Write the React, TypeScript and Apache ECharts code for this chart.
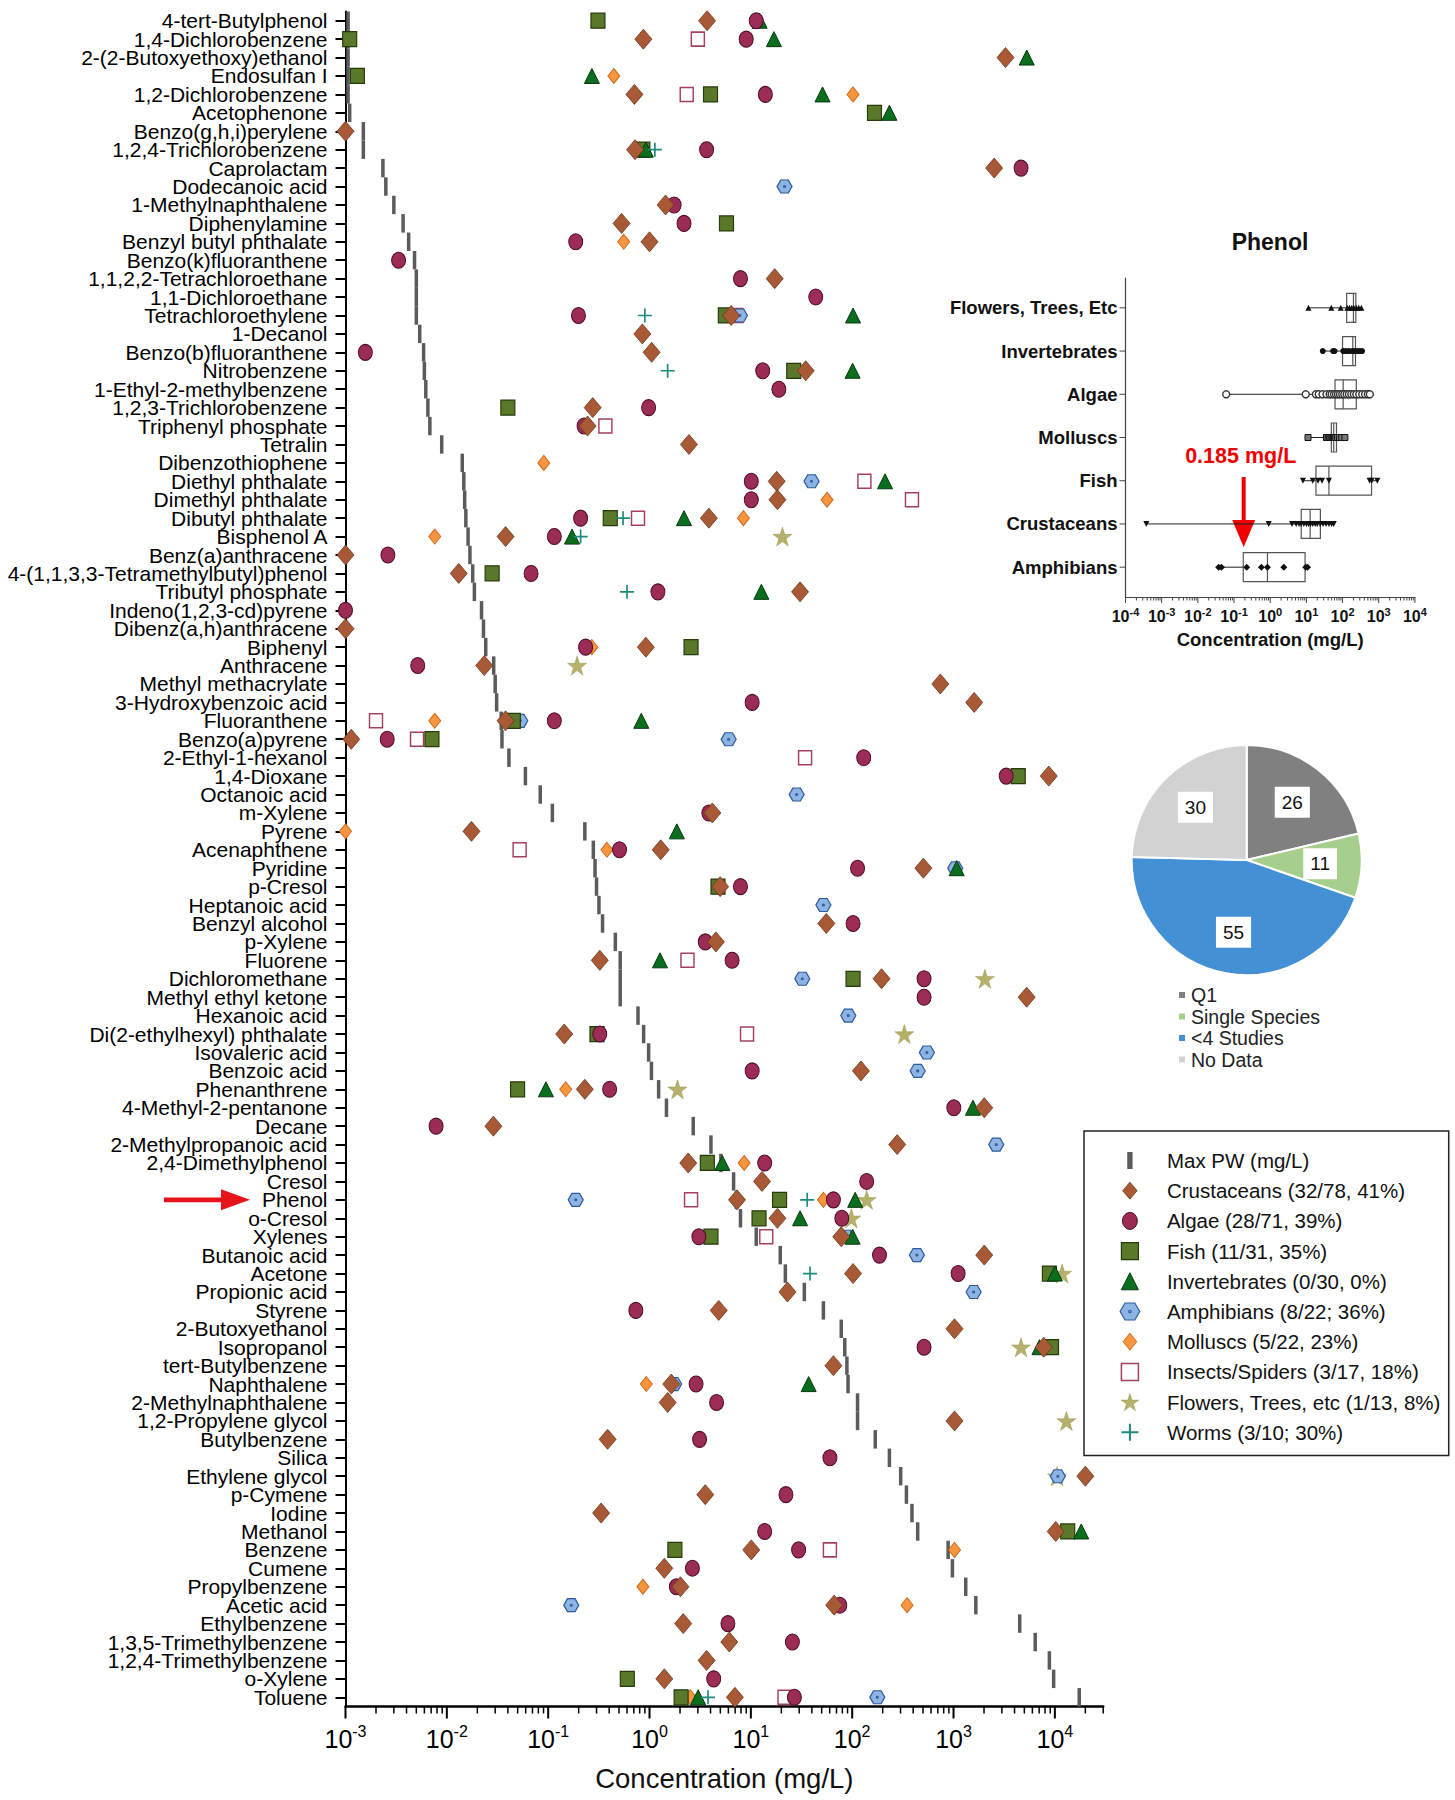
import React, { useEffect, useRef } from "react";
import * as echarts from "echarts";

const FONT = "'Liberation Sans', Arial, Helvetica, sans-serif";

// ---------------- Main chart: chemicals (top to bottom) ----------------
const CHEMICALS: string[] = [
  "4-tert-Butylphenol", "1,4-Dichlorobenzene", "2-(2-Butoxyethoxy)ethanol", "Endosulfan I",
  "1,2-Dichlorobenzene", "Acetophenone", "Benzo(g,h,i)perylene", "1,2,4-Trichlorobenzene",
  "Caprolactam", "Dodecanoic acid", "1-Methylnaphthalene", "Diphenylamine",
  "Benzyl butyl phthalate", "Benzo(k)fluoranthene", "1,1,2,2-Tetrachloroethane", "1,1-Dichloroethane",
  "Tetrachloroethylene", "1-Decanol", "Benzo(b)fluoranthene", "Nitrobenzene",
  "1-Ethyl-2-methylbenzene", "1,2,3-Trichlorobenzene", "Triphenyl phosphate", "Tetralin",
  "Dibenzothiophene", "Diethyl phthalate", "Dimethyl phthalate", "Dibutyl phthalate",
  "Bisphenol A", "Benz(a)anthracene", "4-(1,1,3,3-Tetramethylbutyl)phenol", "Tributyl phosphate",
  "Indeno(1,2,3-cd)pyrene", "Dibenz(a,h)anthracene", "Biphenyl", "Anthracene",
  "Methyl methacrylate", "3-Hydroxybenzoic acid", "Fluoranthene", "Benzo(a)pyrene",
  "2-Ethyl-1-hexanol", "1,4-Dioxane", "Octanoic acid", "m-Xylene",
  "Pyrene", "Acenaphthene", "Pyridine", "p-Cresol",
  "Heptanoic acid", "Benzyl alcohol", "p-Xylene", "Fluorene",
  "Dichloromethane", "Methyl ethyl ketone", "Hexanoic acid", "Di(2-ethylhexyl) phthalate",
  "Isovaleric acid", "Benzoic acid", "Phenanthrene", "4-Methyl-2-pentanone",
  "Decane", "2-Methylpropanoic acid", "2,4-Dimethylphenol", "Cresol",
  "Phenol", "o-Cresol", "Xylenes", "Butanoic acid",
  "Acetone", "Propionic acid", "Styrene", "2-Butoxyethanol",
  "Isopropanol", "tert-Butylbenzene", "Naphthalene", "2-Methylnaphthalene",
  "1,2-Propylene glycol", "Butylbenzene", "Silica", "Ethylene glycol",
  "p-Cymene", "Iodine", "Methanol", "Benzene",
  "Cumene", "Propylbenzene", "Acetic acid", "Ethylbenzene",
  "1,3,5-Trimethylbenzene", "1,2,4-Trimethylbenzene", "o-Xylene", "Toluene",
];

// Max pore-water concentration (mg/L), same order as CHEMICALS
const MAX_PW: number[] = [
  0.00106, 0.00106, 0.00106, 0.00106, 0.00106, 0.0011, 0.0015, 0.0015,
  0.00234, 0.0025, 0.003, 0.0037, 0.0042, 0.0048, 0.005, 0.005,
  0.005, 0.0054, 0.0059, 0.006, 0.0062, 0.0065, 0.0068, 0.0089,
  0.0142, 0.0147, 0.015, 0.0154, 0.0162, 0.0169, 0.018, 0.0187,
  0.022, 0.023, 0.0242, 0.029, 0.03, 0.031, 0.0344, 0.035,
  0.041, 0.0596, 0.0835, 0.11, 0.23, 0.279, 0.29, 0.3,
  0.317, 0.344, 0.46, 0.514, 0.514, 0.514, 0.77, 0.875,
  0.98, 1.045, 1.23, 1.47, 2.7, 4.04, 5.06, 6.76,
  7.2, 7.9, 11.3, 19.5, 21.9, 33.7, 52, 78,
  84.5, 88.7, 91, 113, 113, 169, 233, 301,
  343, 389, 443, 885, 975, 1320, 1660, 4500,
  6400, 8830, 9730, 17400,
];

type Pt = [string, number];

const CRUSTACEANS: Pt[] = [
  ["4-tert-Butylphenol", 3.7], ["1,4-Dichlorobenzene", 0.87], ["2-(2-Butoxyethoxy)ethanol", 3260],
  ["1,2-Dichlorobenzene", 0.71], ["Benzo(g,h,i)perylene", 0.001], ["1,2,4-Trichlorobenzene", 0.72],
  ["Caprolactam", 2520], ["1-Methylnaphthalene", 1.44], ["Diphenylamine", 0.53],
  ["Benzyl butyl phthalate", 1.0], ["1,1,2,2-Tetrachloroethane", 17.2], ["Tetrachloroethylene", 6.4],
  ["1-Decanol", 0.85], ["Benzo(b)fluoranthene", 1.05], ["Nitrobenzene", 34.8],
  ["1,2,3-Trichlorobenzene", 0.275], ["Triphenyl phosphate", 0.245], ["Tetralin", 2.45],
  ["Diethyl phthalate", 18], ["Dimethyl phthalate", 18.3], ["Dibutyl phthalate", 3.85],
  ["Bisphenol A", 0.038], ["Benz(a)anthracene", 0.001], ["4-(1,1,3,3-Tetramethylbutyl)phenol", 0.0131],
  ["Tributyl phosphate", 30.6], ["Dibenz(a,h)anthracene", 0.001], ["Biphenyl", 0.92],
  ["Anthracene", 0.0234], ["Methyl methacrylate", 741], ["3-Hydroxybenzoic acid", 1600],
  ["Fluoranthene", 0.038], ["Benzo(a)pyrene", 0.00114], ["1,4-Dioxane", 8710],
  ["m-Xylene", 4.17], ["Pyrene", 0.0175], ["Acenaphthene", 1.29],
  ["Pyridine", 504], ["p-Cresol", 4.98], ["Benzyl alcohol", 55.6],
  ["p-Xylene", 4.52], ["Fluorene", 0.323], ["Dichloromethane", 195],
  ["Methyl ethyl ketone", 5270], ["Di(2-ethylhexyl) phthalate", 0.144], ["Benzoic acid", 122],
  ["Phenanthrene", 0.23], ["4-Methyl-2-pentanone", 2010], ["Decane", 0.0288],
  ["2-Methylpropanoic acid", 278], ["2,4-Dimethylphenol", 2.41], ["Cresol", 12.9],
  ["Phenol", 7.3], ["o-Cresol", 18.3], ["Xylenes", 78],
  ["Butanoic acid", 2010], ["Acetone", 102], ["Propionic acid", 23],
  ["Styrene", 4.82], ["2-Butoxyethanol", 1023], ["Isopropanol", 7760],
  ["tert-Butylbenzene", 65.3], ["Naphthalene", 1.64], ["2-Methylnaphthalene", 1.51],
  ["1,2-Propylene glycol", 1023], ["Butylbenzene", 0.386], ["Ethylene glycol", 20000],
  ["p-Cymene", 3.55], ["Iodine", 0.333], ["Methanol", 10200],
  ["Benzene", 10.1], ["Cumene", 1.4], ["Propylbenzene", 2.02],
  ["Acetic acid", 66.4], ["Ethylbenzene", 2.15], ["1,3,5-Trimethylbenzene", 6.13],
  ["1,2,4-Trimethylbenzene", 3.66], ["o-Xylene", 1.4], ["Toluene", 6.96],
];

const ALGAE: Pt[] = [
  ["4-tert-Butylphenol", 11.3], ["1,4-Dichlorobenzene", 9.0], ["1,2-Dichlorobenzene", 13.9],
  ["1,2,4-Trichlorobenzene", 3.66], ["Caprolactam", 4640], ["1-Methylnaphthalene", 1.75],
  ["Diphenylamine", 2.19], ["Benzyl butyl phthalate", 0.187], ["Benzo(k)fluoranthene", 0.00334],
  ["1,1,2,2-Tetrachloroethane", 7.9], ["1,1-Dichloroethane", 43.7], ["Tetrachloroethylene", 0.199],
  ["Benzo(b)fluoranthene", 0.00157], ["Nitrobenzene", 13.1], ["1-Ethyl-2-methylbenzene", 18.9],
  ["1,2,3-Trichlorobenzene", 0.98], ["Triphenyl phosphate", 0.226], ["Diethyl phthalate", 10.1],
  ["Dimethyl phthalate", 10.1], ["Dibutyl phthalate", 0.209], ["Bisphenol A", 0.115],
  ["Benz(a)anthracene", 0.00262], ["4-(1,1,3,3-Tetramethylbutyl)phenol", 0.0678], ["Tributyl phosphate", 1.21],
  ["Indeno(1,2,3-cd)pyrene", 0.001], ["Biphenyl", 0.234], ["Anthracene", 0.00516],
  ["3-Hydroxybenzoic acid", 10.3], ["Fluoranthene", 0.115], ["Benzo(a)pyrene", 0.00258],
  ["2-Ethyl-1-hexanol", 130], ["1,4-Dioxane", 3310], ["m-Xylene", 3.85],
  ["Acenaphthene", 0.506], ["Pyridine", 113], ["p-Cresol", 7.9],
  ["Benzyl alcohol", 102], ["p-Xylene", 3.55], ["Fluorene", 6.53],
  ["Dichloromethane", 512], ["Methyl ethyl ketone", 512], ["Di(2-ethylhexyl) phthalate", 0.323],
  ["Benzoic acid", 10.3], ["Phenanthrene", 0.404], ["4-Methyl-2-pentanone", 1007],
  ["Decane", 0.00783], ["2,4-Dimethylphenol", 13.7], ["Cresol", 139],
  ["Phenol", 65.3], ["o-Cresol", 79], ["Xylenes", 3.07],
  ["Butanoic acid", 186], ["Acetone", 1110], ["Styrene", 0.733],
  ["Isopropanol", 512], ["Naphthalene", 2.88], ["2-Methylnaphthalene", 4.59],
  ["Butylbenzene", 3.12], ["Silica", 60.3], ["p-Cymene", 22.2],
  ["Methanol", 13.7], ["Benzene", 29.6], ["Cumene", 2.65],
  ["Propylbenzene", 1.84], ["Acetic acid", 75.5], ["Ethylbenzene", 5.94],
  ["1,3,5-Trimethylbenzene", 25.7], ["o-Xylene", 4.3], ["Toluene", 26.9],
];

const FISH: Pt[] = [
  ["4-tert-Butylphenol", 0.31], ["1,4-Dichlorobenzene", 0.0011], ["Endosulfan I", 0.00131],
  ["1,2-Dichlorobenzene", 4.0], ["Acetophenone", 166], ["1,2,4-Trichlorobenzene", 0.86],
  ["Diphenylamine", 5.75], ["Tetrachloroethylene", 5.6], ["Nitrobenzene", 26.5],
  ["1,2,3-Trichlorobenzene", 0.04], ["Dibutyl phthalate", 0.41], ["4-(1,1,3,3-Tetramethylbutyl)phenol", 0.028],
  ["Biphenyl", 2.57], ["Fluoranthene", 0.0453], ["Benzo(a)pyrene", 0.00713],
  ["1,4-Dioxane", 4350], ["p-Cresol", 4.74], ["Dichloromethane", 102],
  ["Di(2-ethylhexyl) phthalate", 0.303], ["Phenanthrene", 0.0499], ["2,4-Dimethylphenol", 3.72],
  ["Phenol", 19.2], ["o-Cresol", 12.05], ["Xylenes", 4.04],
  ["Acetone", 8830], ["Isopropanol", 9270], ["Methanol", 13400],
  ["Benzene", 1.78], ["o-Xylene", 0.604], ["Toluene", 2.05],
];

const INVERTEBRATES: Pt[] = [
  ["4-tert-Butylphenol", 12.2], ["1,4-Dichlorobenzene", 16.9], ["2-(2-Butoxyethoxy)ethanol", 5280],
  ["Endosulfan I", 0.27], ["1,2-Dichlorobenzene", 51], ["Acetophenone", 233],
  ["1,2,4-Trichlorobenzene", 0.92], ["Tetrachloroethylene", 102], ["Nitrobenzene", 101],
  ["Diethyl phthalate", 211], ["Dibutyl phthalate", 2.19], ["Bisphenol A", 0.172],
  ["Tributyl phosphate", 12.7], ["Fluoranthene", 0.83], ["Pyrene", 1.86],
  ["Pyridine", 1075], ["Fluorene", 1.27], ["Phenanthrene", 0.095],
  ["4-Methyl-2-pentanone", 1556], ["2,4-Dimethylphenol", 5.23], ["Phenol", 107],
  ["o-Cresol", 30.6], ["Xylenes", 101], ["Acetone", 10000],
  ["Isopropanol", 7050], ["Naphthalene", 37.2], ["Methanol", 18200],
  ["Toluene", 3.02],
];

const AMPHIBIANS: Pt[] = [
  ["Dodecanoic acid", 21.5], ["Tetrachloroethylene", 7.8], ["Diethyl phthalate", 39.7],
  ["Fluoranthene", 0.053], ["Benzo(a)pyrene", 6.04], ["Octanoic acid", 28.3],
  ["Pyridine", 1040], ["Heptanoic acid", 52], ["Dichloromethane", 32.2],
  ["Hexanoic acid", 91.5], ["Isovaleric acid", 546], ["Benzoic acid", 443],
  ["2-Methylpropanoic acid", 2640], ["Phenol", 0.187], ["Xylenes", 88],
  ["Butanoic acid", 435], ["Propionic acid", 1580], ["Naphthalene", 1.75],
  ["Ethylene glycol", 10700], ["Acetic acid", 0.169], ["Toluene", 177],
];

const MOLLUSCS: Pt[] = [
  ["Endosulfan I", 0.445], ["1,2-Dichlorobenzene", 102], ["Benzyl butyl phthalate", 0.557],
  ["Dibenzothiophene", 0.0906], ["Dimethyl phthalate", 56.5], ["Dibutyl phthalate", 8.45],
  ["Bisphenol A", 0.0076], ["Biphenyl", 0.27], ["Fluoranthene", 0.0076],
  ["Pyrene", 0.001], ["Acenaphthene", 0.38], ["Phenanthrene", 0.149],
  ["2,4-Dimethylphenol", 8.59], ["Phenol", 52], ["Naphthalene", 0.93],
  ["Benzene", 1023], ["Propylbenzene", 0.86], ["Acetic acid", 348],
  ["Toluene", 2.53],
];

const INSECTS: Pt[] = [
  ["1,4-Dichlorobenzene", 3.0], ["1,2-Dichlorobenzene", 2.33], ["Tetrachloroethylene", 7.2],
  ["Triphenyl phosphate", 0.367], ["Diethyl phthalate", 132], ["Dimethyl phthalate", 389],
  ["Dibutyl phthalate", 0.77], ["Fluoranthene", 0.002], ["Benzo(a)pyrene", 0.00508],
  ["2-Ethyl-1-hexanol", 34.3], ["Acenaphthene", 0.0523], ["Fluorene", 2.37],
  ["Di(2-ethylhexyl) phthalate", 9.17], ["Phenol", 2.57], ["Xylenes", 14.2],
  ["Benzene", 60.3], ["Toluene", 21.5],
];

const FLOWERS: Pt[] = [
  ["Bisphenol A", 20.5], ["Anthracene", 0.193], ["Dichloromethane", 2040],
  ["Di(2-ethylhexyl) phthalate", 327], ["Phenanthrene", 1.89], ["Phenol", 139],
  ["o-Cresol", 98], ["Acetone", 11800], ["Isopropanol", 4640],
  ["1,2-Propylene glycol", 13000], ["Ethylene glycol", 10500],
];

const WORMS: Pt[] = [
  ["1,2,4-Trichlorobenzene", 1.13], ["Tetrachloroethylene", 0.9], ["Nitrobenzene", 1.51],
  ["Dibutyl phthalate", 0.548], ["Bisphenol A", 0.209], ["Tributyl phosphate", 0.6],
  ["Phenol", 36], ["Acetone", 38.4], ["Toluene", 3.78],
];

const X_EXPONENTS = [-3, -2, -1, 0, 1, 2, 3, 4];
const X_MIN = 0.001;
const X_MAX = 30000;

// ---------------- Inset (Phenol) ----------------
const INSET_GROUPS = ["Flowers, Trees, Etc", "Invertebrates", "Algae", "Molluscs", "Fish", "Crustaceans", "Amphibians"];
// [min, Q1, median, Q3, max]
const INSET_BOXES: number[][] = [
  [11.4, 130, 200, 233, 331],
  [28.4, 100, 192, 228, 347],
  [0.0607, 62, 104, 240, 569],
  [11.1, 49, 57, 68, 116],
  [8.05, 18.4, 42, 634, 916],
  [0.000376, 7.2, 12.7, 24.4, 57],
  [0.0376, 0.18, 0.84, 9.2, 10.2],
];
const INSET_FLOWERS_PTS = [11.4, 49, 89, 135, 155, 180, 205, 240, 280, 331];
const INSET_INVERT_PTS = [28.4, 55, 60, 105, 125, 150, 185, 220, 260, 300, 347];
const INSET_ALGAE_PTS = [0.0607, 9.6, 18.3, 22, 28, 36, 44, 50, 58, 66, 75, 85, 98, 112, 130, 150, 175, 205, 240, 290, 350, 420, 500, 569];
const INSET_MOLLUSC_PTS = [11.1, 36, 40, 44, 48, 52, 56, 60, 65, 72, 82, 95, 116];
const INSET_FISH_PTS = [8.05, 15, 21, 27, 42, 560, 640, 916];
const INSET_CRUST_PTS = [0.000376, 0.91, 4.0, 5.2, 6.3, 7.2, 8.5, 10, 11.5, 13, 15, 17.5, 20, 24, 29, 35, 42, 50, 57];
const INSET_AMPHIB_PTS = [0.0376, 0.045, 0.224, 0.57, 0.84, 2.38, 9.6, 10.8];
const INSET_X_EXPONENTS = [-4, -3, -2, -1, 0, 1, 2, 3, 4];
const PHENOL_PNEC = 0.185;

// ---------------- Pie ----------------
const PIE_NAMES = ["Q1", "Single Species", "<4 Studies", "No Data"];
const PIE_VALUES = [26, 11, 55, 30];
const PIE_COLORS = ["#808080", "#A6CE8C", "#4390D5", "#D2D2D2"];

// ---------------- Symbols (paths keep their aspect in the legend) ----------------
const P_DIAMOND_L = "path://M42.5,0 L85,50 L42.5,100 L0,50 Z";
const P_DIAMOND_S = "path://M40,0 L80,50 L40,100 L0,50 Z";
const P_ELLIPSE = "path://M43.75,0 A43.75,50 0 1,1 43.75,100 A43.75,50 0 1,1 43.75,0 Z";
const P_RECT = "path://M0,0 L100,0 L100,100 L0,100 Z";
const P_TRIANGLE = "path://M50,0 L100,100 L0,100 Z";
const HEX = "path://M25,0 L75,0 L100,43.3 L75,86.6 L25,86.6 L0,43.3 Z M50,37 A6.3,6.3 0 1,1 50,49.6 A6.3,6.3 0 1,1 50,37 Z";
const STAR = "path://M50,0 L61.2,34.5 L97.6,34.5 L68.2,55.9 L79.4,90.5 L50,69.1 L20.6,90.5 L31.8,55.9 L2.4,34.5 L38.8,34.5 Z";
const PLUS = "path://M44,0 L56,0 L56,44 L100,44 L100,56 L56,56 L56,100 L44,100 L44,56 L0,56 L0,44 L44,44 Z";

const N_MAXPW = "Max PW (mg/L)";

interface Species {
  name: string; data: Pt[]; symbol: string; size: number | number[];
  color: string; border: string; bw: number;
}

const SPECIES: Species[] = [
  { name: "Crustaceans (32/78, 41%)", data: CRUSTACEANS, symbol: P_DIAMOND_L, size: [17, 20], color: "#A85A37", border: "#6E3519", bw: 0.8 },
  { name: "Algae (28/71, 39%)", data: ALGAE, symbol: P_ELLIPSE, size: [14, 16], color: "#9B2C55", border: "#4E0A25", bw: 1 },
  { name: "Fish (11/31, 35%)", data: FISH, symbol: P_RECT, size: [14, 15], color: "#59782A", border: "#263A0A", bw: 1.2 },
  { name: "Invertebrates (0/30, 0%)", data: INVERTEBRATES, symbol: P_TRIANGLE, size: [15, 15], color: "#0B6E1E", border: "#053A0E", bw: 1 },
  { name: "Amphibians (8/22; 36%)", data: AMPHIBIANS, symbol: HEX, size: [15, 13], color: "#8DB4E2", border: "#2F5B9E", bw: 1.2 },
  { name: "Molluscs (5/22, 23%)", data: MOLLUSCS, symbol: P_DIAMOND_S, size: [12, 15], color: "#F7963F", border: "#D06A1E", bw: 1 },
  { name: "Insects/Spiders (3/17, 18%)", data: INSECTS, symbol: P_RECT, size: [13, 14], color: "#FFFFFF", border: "#A3405C", bw: 1.5 },
  { name: "Flowers, Trees, etc (1/13, 8%)", data: FLOWERS, symbol: STAR, size: 19, color: "#B5B16A", border: "#9A9650", bw: 0.5 },
  { name: "Worms (3/10; 30%)", data: WORMS, symbol: PLUS, size: 14, color: "#1E8A7B", border: "#1E8A7B", bw: 0 },
];
// drawing order (bottom to top)
const DRAW_ORDER = [
  "Flowers, Trees, etc (1/13, 8%)", "Insects/Spiders (3/17, 18%)", "Molluscs (5/22, 23%)",
  "Amphibians (8/22; 36%)", "Fish (11/31, 35%)", "Invertebrates (0/30, 0%)",
  "Algae (28/71, 39%)", "Crustaceans (32/78, 41%)", "Worms (3/10; 30%)",
];

function powLabel(v: number): string {
  const l = Math.log10(v);
  const e = Math.round(l);
  if (Math.abs(l - e) > 1e-6) return "";
  return `{b|10}{s|${e}}`;
}

function buildTicks(exps: number[], maxV: number): number[][] {
  const out: number[][] = [];
  exps.forEach((e) => {
    for (let k = 1; k <= 9; k++) {
      const v = k * Math.pow(10, e);
      if (v <= maxV * 1.0001) out.push([v, 0, k === 1 ? 1 : 0]);
    }
  });
  return out;
}

function buildOption(): any {
  const series: any[] = [];

  // Max PW bars
  series.push({
    type: "custom", name: N_MAXPW, xAxisIndex: 0, yAxisIndex: 0, z: 2, silent: true,
    itemStyle: { color: "#5B5B5B" },
    encode: { x: 0, y: 1 },
    data: MAX_PW.map((v, i) => [v, i]),
    renderItem: (params: any, api: any) => {
      const p = api.coord([api.value(0), api.value(1)]);
      const band = params.coordSys.height / CHEMICALS.length;
      return {
        type: "line",
        shape: { x1: p[0], y1: p[1] - band / 2, x2: p[0], y2: p[1] + band / 2 },
        style: { stroke: "#5B5B5B", lineWidth: 3.5 },
      };
    },
  });

  // main x-axis ticks (major + minor, log)
  series.push({
    type: "custom", xAxisIndex: 0, yAxisIndex: 0, silent: true, clip: false, z: 3,
    encode: { x: 0, y: 1 },
    data: buildTicks(X_EXPONENTS, X_MAX),
    renderItem: (params: any, api: any) => {
      const x = api.coord([api.value(0), 0])[0];
      const cs = params.coordSys;
      const y0 = cs.y + cs.height;
      const major = api.value(2) === 1;
      return {
        type: "line",
        shape: { x1: x, y1: y0, x2: x, y2: y0 + (major ? 12 : 7) },
        style: { stroke: "#000", lineWidth: major ? 2 : 1.5 },
      };
    },
  });

  // species scatter
  DRAW_ORDER.forEach((nm, k) => {
    const s = SPECIES.find((x) => x.name === nm)!;
    series.push({
      type: "scatter", name: s.name, xAxisIndex: 0, yAxisIndex: 0, z: 4 + k, silent: true,
      symbol: s.symbol, symbolSize: s.size,
      itemStyle: { color: s.color, borderColor: s.border, borderWidth: s.bw, opacity: 1 },
      data: s.data.map(([c, v]) => [v, CHEMICALS.indexOf(c)]).filter((d) => d[1] >= 0),
    });
  });

  // ---------- Inset ----------
  series.push({
    type: "custom", xAxisIndex: 1, yAxisIndex: 1, silent: true, clip: false, z: 3,
    encode: { x: 0, y: 1 },
    data: buildTicks(INSET_X_EXPONENTS, 10000),
    renderItem: (params: any, api: any) => {
      const x = api.coord([api.value(0), 0])[0];
      const cs = params.coordSys;
      const y0 = cs.y + cs.height;
      const major = api.value(2) === 1;
      return {
        type: "line",
        shape: { x1: x, y1: y0, x2: x, y2: y0 + (major ? 6 : 3.5) },
        style: { stroke: "#444", lineWidth: 1 },
      };
    },
  });

  series.push({
    type: "custom", xAxisIndex: 1, yAxisIndex: 1, silent: true, clip: false, z: 3,
    encode: { x: 0, y: 1 },
    data: INSET_GROUPS.map((g, i) => [1e-4, i]),
    renderItem: (params: any, api: any) => {
      const p = api.coord([api.value(0), api.value(1)]);
      return {
        type: "group",
        children: [
          { type: "line", shape: { x1: p[0] - 6, y1: p[1], x2: p[0], y2: p[1] }, style: { stroke: "#444", lineWidth: 1 } },
          {
            type: "text",
            style: {
              text: INSET_GROUPS[params.dataIndex], x: p[0] - 8, y: p[1],
              textAlign: "right", textVerticalAlign: "middle", align: "right", verticalAlign: "middle",
              font: `bold 18.5px ${FONT}`, fill: "#111",
            },
          },
        ],
      };
    },
  });

  series.push({
    type: "custom", xAxisIndex: 1, yAxisIndex: 1, silent: true, z: 4,
    encode: { x: [1, 2, 3, 4, 5], y: 0 },
    data: INSET_BOXES.map((b, i) => [i, ...b]),
    renderItem: (params: any, api: any) => {
      const i = api.value(0);
      const xs = [1, 2, 3, 4, 5].map((k) => api.coord([api.value(k), i])[0]);
      const y = api.coord([api.value(1), i])[1];
      const h = 14.5;
      return {
        type: "group",
        children: [
          { type: "line", shape: { x1: xs[0], y1: y, x2: xs[1], y2: y }, style: { stroke: "#222", lineWidth: 1 } },
          { type: "line", shape: { x1: xs[3], y1: y, x2: xs[4], y2: y }, style: { stroke: "#222", lineWidth: 1 } },
          { type: "rect", shape: { x: xs[1], y: y - h, width: xs[3] - xs[1], height: 2 * h }, style: { fill: "rgba(255,255,255,0)", stroke: "#555", lineWidth: 1.2 } },
          { type: "line", shape: { x1: xs[2], y1: y - h, x2: xs[2], y2: y + h }, style: { stroke: "#555", lineWidth: 1.2 } },
        ],
      };
    },
  });

  const insetPts: { pts: number[]; symbol: string; size: number; rotate?: number; color: string; border: string; bw: number }[] = [
    { pts: INSET_FLOWERS_PTS, symbol: "triangle", size: 6, color: "#111", border: "#111", bw: 0 },
    { pts: INSET_INVERT_PTS, symbol: "circle", size: 6, color: "#111", border: "#111", bw: 0 },
    { pts: INSET_ALGAE_PTS, symbol: "circle", size: 7, color: "#fff", border: "#333", bw: 1.4 },
    { pts: INSET_MOLLUSC_PTS, symbol: "rect", size: 6, color: "#777", border: "#111", bw: 1 },
    { pts: INSET_FISH_PTS, symbol: "triangle", size: 6, rotate: 180, color: "#111", border: "#111", bw: 0 },
    { pts: INSET_CRUST_PTS, symbol: "triangle", size: 6, rotate: 180, color: "#111", border: "#111", bw: 0 },
    { pts: INSET_AMPHIB_PTS, symbol: "diamond", size: 7, color: "#111", border: "#111", bw: 0 },
  ];
  insetPts.forEach((g, i) => {
    series.push({
      type: "scatter", xAxisIndex: 1, yAxisIndex: 1, silent: true, z: 5,
      symbol: g.symbol, symbolSize: g.size, symbolRotate: g.rotate || 0,
      itemStyle: { color: g.color, borderColor: g.border, borderWidth: g.bw, opacity: 1 },
      data: g.pts.map((v) => [v, i]),
    });
  });

  // ---------- Pie ----------
  series.push({
    type: "pie", center: [1246.7, 860], radius: 115, startAngle: 90, clockwise: true, silent: true,
    label: { show: false }, labelLine: { show: false },
    itemStyle: { borderColor: "#fff", borderWidth: 2 },
    data: PIE_NAMES.map((n, i) => ({ name: n, value: PIE_VALUES[i], itemStyle: { color: PIE_COLORS[i] } })),
  });
  series.push({
    type: "pie", center: [1246.7, 860], radius: [26, 115], startAngle: 90, clockwise: true, silent: true, z: 3,
    itemStyle: { color: "rgba(0,0,0,0)", borderWidth: 0 },
    label: {
      show: true, position: "inside", formatter: "{c}", fontSize: 19, color: "#111", fontFamily: FONT,
      backgroundColor: "#fff", padding: [7, 7, 5, 7],
    },
    labelLine: { show: false },
    data: PIE_VALUES.map((v) => ({ name: "", value: v })),
  });

  const legendMain = [
    { name: N_MAXPW, icon: "path://M0,0 L5,0 L5,16 L0,16 Z", itemStyle: { color: "#5B5B5B", borderWidth: 0 } },
    ...SPECIES.map((s) => ({
      name: s.name, icon: s.symbol,
      itemStyle: { color: s.color, borderColor: s.border, borderWidth: s.bw },
    })),
  ];

  return {
    animation: false,
    textStyle: { fontFamily: FONT },
    grid: [
      { left: 345.5, top: 11.5, width: 757.7, height: 1695, containLabel: false, outerBoundsMode: "none" },
      { left: 1125.5, top: 278, width: 289.4, height: 319, containLabel: false, outerBoundsMode: "none" },
    ],
    xAxis: [
      {
        type: "log", logBase: 10, gridIndex: 0, min: X_MIN, max: X_MAX,
        axisLine: { show: true, onZero: false, lineStyle: { color: "#000", width: 2.5 } },
        axisTick: { show: false }, minorTick: { show: false }, splitLine: { show: false },
        axisLabel: {
          formatter: powLabel, margin: 17, showMinLabel: true, showMaxLabel: true,
          rich: {
            b: { fontSize: 25, lineHeight: 30, color: "#000", fontFamily: FONT },
            s: { fontSize: 16, lineHeight: 24, verticalAlign: "top", color: "#000", fontFamily: FONT },
          },
        },
        name: "Concentration (mg/L)", nameLocation: "middle", nameGap: 58, nameMoveOverlap: false,
        nameTextStyle: { fontSize: 27.5, color: "#111", fontFamily: FONT },
      },
      {
        type: "log", logBase: 10, gridIndex: 1, min: 1e-4, max: 1e4,
        axisLine: { show: true, onZero: false, lineStyle: { color: "#444", width: 1.2 } },
        axisTick: { show: false }, minorTick: { show: false }, splitLine: { show: false },
        axisLabel: {
          formatter: powLabel, margin: 9, showMinLabel: true, showMaxLabel: true,
          rich: {
            b: { fontSize: 16, fontWeight: "bold", lineHeight: 20, color: "#111", fontFamily: FONT },
            s: { fontSize: 11, fontWeight: "bold", lineHeight: 16, verticalAlign: "top", color: "#111", fontFamily: FONT },
          },
        },
        name: "Concentration (mg/L)", nameLocation: "middle", nameGap: 33, nameMoveOverlap: false,
        nameTextStyle: { fontSize: 18.5, fontWeight: "bold", color: "#111", fontFamily: FONT },
      },
    ],
    yAxis: [
      {
        type: "category", gridIndex: 0, data: CHEMICALS, inverse: true, boundaryGap: true,
        axisLine: { show: true, lineStyle: { color: "#000", width: 2 } },
        axisTick: { show: true, alignWithLabel: true, length: 10, lineStyle: { color: "#000", width: 2 } },
        axisLabel: { interval: 0, fontSize: 21, color: "#000", margin: 18, fontFamily: FONT },
        splitLine: { show: false },
      },
      {
        type: "value", gridIndex: 1, min: -0.69, max: 6.69, inverse: true,
        axisLine: { show: true, onZero: false, lineStyle: { color: "#444", width: 1.2 } },
        axisTick: { show: false }, axisLabel: { show: false }, splitLine: { show: false },
      },
    ],
    legend: [
      {
        data: legendMain, orient: "vertical", left: 1084, top: 1131,
        itemWidth: 64, itemHeight: 17, itemGap: 9.2, symbolKeepAspect: true,
        padding: [19, 8, 12.7, 35.5],
        borderColor: "#222", borderWidth: 1.5, backgroundColor: "#fff",
        textStyle: { fontSize: 20.5, color: "#111", fontFamily: FONT },
        selectedMode: false,
      },
      {
        data: PIE_NAMES, orient: "vertical", left: 1177, top: 985,
        itemWidth: 8, itemHeight: 8, itemGap: 1.5, padding: 0, icon: "rect",
        textStyle: { fontSize: 19.5, color: "#222", fontFamily: FONT },
        selectedMode: false,
      },
    ],
    series,
  };
}

export default function App() {
  const ref = useRef<HTMLDivElement>(null);
  useEffect(() => {
    if (!ref.current) return;
    const chart = echarts.init(ref.current, null, { renderer: "svg" });
    chart.setOption(buildOption());

    const pIdx = CHEMICALS.indexOf("Phenol");
    const py = (chart.convertToPixel({ gridIndex: 0 } as any, [1, pIdx]) as number[])[1];
    const a5 = chart.convertToPixel({ gridIndex: 1 } as any, [PHENOL_PNEC, 5]) as number[];
    const ax = a5[0];
    const r5 = a5[1];
    const RED = "#F00000";

    chart.setOption({
      graphic: [
        { type: "rect", silent: true, shape: { x: 164, y: py - 2.3, width: 60, height: 4.6 }, style: { fill: "#E8141B" } },
        { type: "polygon", silent: true, shape: { points: [[221, py - 10.5], [250, py], [221, py + 10.5]] }, style: { fill: "#E8141B" } },
        {
          type: "text", silent: true, x: 1270, y: 242,
          style: { text: "Phenol", font: `bold 23px ${FONT}`, fill: "#111", textAlign: "center", textVerticalAlign: "middle" },
        },
        {
          type: "text", silent: true, x: ax - 3, y: r5 - 68,
          style: { text: "0.185 mg/L", font: `bold 21.5px ${FONT}`, fill: RED, textAlign: "center", textVerticalAlign: "middle" },
        },
        { type: "rect", silent: true, shape: { x: ax - 2, y: r5 - 47, width: 4, height: 44 }, style: { fill: RED } },
        { type: "polygon", silent: true, shape: { points: [[ax - 11.5, r5 - 4], [ax + 11.5, r5 - 4], [ax, r5 + 23]] }, style: { fill: RED } },
      ],
    });
    return () => chart.dispose();
  }, []);
  return <div ref={ref} style={{ position: "absolute", left: 0, top: 0, width: 1455, height: 1800 }} />;
}
